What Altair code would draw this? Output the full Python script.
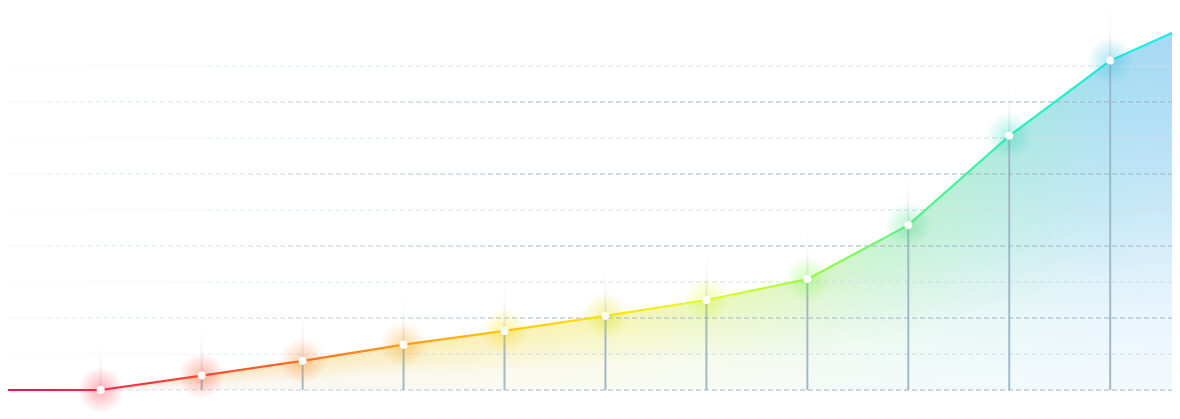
import altair as alt
import pandas as pd
import numpy as np

# ---------------- data ----------------
idx = list(range(11))
values = [0, 4.0, 8.1, 12.6, 16.4, 20.6, 25.0, 30.8, 45.8, 70.6, 91.5]
lead_idx, lead_val = -1, 0.0        # line enters from the left edge
tail_idx, tail_val = 11, 104.0      # line leaves past the right edge
grid_levels = [0, 10, 20, 30, 40, 50, 60, 70, 80, 90]

# ---------------- layout / style ----------------
W, H = 1164, 411
X0, DX = 92.7, 100.95               # plot px of index 0, px per index
x_dom = [(0 - X0) / DX, (W - X0) / DX]
Y0, DY = 382.0, 3.6                 # plot px of value 0, px per unit
y_dom = [(Y0 - H) / DY, Y0 / DY]
xs = alt.Scale(domain=x_dom, nice=False, zero=False)
ys = alt.Scale(domain=y_dom, nice=False, zero=False)

pts = pd.DataFrame({"i": idx, "v": values})
line_df = pd.DataFrame({"i": [lead_idx] + idx + [tail_idx],
                        "v": [lead_val] + values + [tail_val]})

# grid segments (fading to the left)
seg_px = 40.0
rows = []
for lv in grid_levels:
    col = "#9fb6c9" if (lv // 10) % 2 == 0 else "#d3dee6"
    p = 0.0
    while p < W:
        q = min(p + seg_px, W)
        c = (p + q) / 2
        op = float(min(1.0, 0.15 + (c / 600.0) ** 1.2))
        rows.append({"x0": (p - X0) / DX, "x1": (q - X0) / DX, "lv": lv,
                     "col": col, "op": op})
        p = q
grid_df = pd.DataFrame(rows)


def stops_x(pairs):
    # pairs given in page px; converted to offsets in the line's bounding box
    out = []
    for x, c in pairs:
        o = ((x - 8) - (X0 - DX)) / (DX * 12)
        out.append(alt.GradientStop(offset=max(0.0, min(1.0, o)), color=c))
    return out


line_grad = alt.LinearGradient(gradient="linear", x1=0, y1=0, x2=1, y2=0, stops=stops_x([
    (0, "#e3164b"), (100, "#ff2446"), (200, "#ff4a32"), (300, "#ff6e22"),
    (400, "#ff9c14"), (500, "#ffc40a"), (600, "#ffe40a"), (700, "#e4fb22"),
    (800, "#a6fb3e"), (900, "#5ef57e"), (1000, "#2ef4b2"), (1100, "#14efdc"),
    (1212, "#18eef4")]))

area_grad = alt.LinearGradient(gradient="linear", x1=0, y1=0, x2=1, y2=0, stops=stops_x([
    (0, "#ffa890"), (150, "#ffbc78"), (300, "#ffc860"), (450, "#fcdc50"),
    (600, "#f2ec58"), (750, "#d0f080"), (880, "#a6ecb4"), (1000, "#9ee4d6"),
    (1100, "#a2dcf0"), (1212, "#aad8f6")]))

fade_grad = alt.LinearGradient(gradient="linear", x1=0, y1=0, x2=0, y2=1, stops=[
    alt.GradientStop(offset=0.0, color="rgba(250,252,255,0)"),
    alt.GradientStop(offset=0.15, color="rgba(250,252,255,0.06)"),
    alt.GradientStop(offset=0.5, color="rgba(250,252,255,0.45)"),
    alt.GradientStop(offset=0.8, color="rgba(250,252,255,0.8)"),
    alt.GradientStop(offset=1.0, color="rgba(250,252,255,0.93)")])

flare_grad = alt.LinearGradient(gradient="linear", x1=0, y1=1, x2=0, y2=0, stops=[
    alt.GradientStop(offset=0.0, color="rgba(205,214,224,0.5)"),
    alt.GradientStop(offset=1.0, color="rgba(235,240,245,0)")])

glow_colors = ["#ff3050", "#ff5a3a", "#ff8a30", "#ffb020", "#ffd820", "#f0f020",
               "#d8ff30", "#90ff50", "#50f090", "#30f0c8", "#30d0f0"]
gcol = alt.Color("i:Q", scale=alt.Scale(domain=idx, range=glow_colors), legend=None)

X = alt.X("i:Q", scale=xs, axis=None)
Y = alt.Y("v:Q", scale=ys, axis=None)

base_line = alt.Chart(line_df)
area = base_line.mark_area(fill=area_grad, clip=True).encode(
    x=X, y=Y, y2=alt.datum(0))
area_fade = base_line.mark_area(fill=fade_grad, clip=True).encode(
    x=X, y=Y, y2=alt.datum(0))
# soft band of colour just below the line
bands = [base_line.transform_calculate(lo=f"datum.v * {f}").mark_area(
            fill=area_grad, opacity=0.045, clip=True).encode(x=X, y=Y, y2="lo:Q")
         for f in (0.92, 0.84, 0.76, 0.68, 0.6, 0.52, 0.44, 0.36)]

grid = alt.Chart(grid_df).mark_rule(strokeWidth=1, strokeDash=[5, 3], clip=True).encode(
    x=alt.X("x0:Q", scale=xs, axis=None), x2="x1:Q",
    y=alt.Y("lv:Q", scale=ys, axis=None),
    stroke=alt.Color("col:N", scale=None),
    opacity=alt.Opacity("op:Q", scale=None))

vrules = alt.Chart(pts).transform_filter("datum.v > 0").mark_rule(
    stroke="#98b3c1", strokeWidth=2, opacity=0.9).encode(x=X, y=Y, y2=alt.datum(0))

flares = alt.Chart(pts).transform_calculate(
    xa="datum.i - 0.011", xb="datum.i + 0.011", top="datum.v + 15"
).mark_rect(fill=flare_grad).encode(
    x=alt.X("xa:Q", scale=xs, axis=None), x2="xb:Q",
    y=alt.Y("v:Q", scale=ys, axis=None), y2="top:Q")

line = base_line.mark_line(stroke=line_grad, strokeWidth=2.2, clip=True).encode(x=X, y=Y)

glows = [alt.Chart(pts).mark_circle(size=s, opacity=0.035).encode(x=X, y=Y, color=gcol)
         for s in (2000, 1650, 1350, 1080, 850, 650, 480, 340, 230, 150)]
dots = alt.Chart(pts).mark_circle(size=64, opacity=1, color="#ffffff").encode(x=X, y=Y)

chart = alt.layer(area, area_fade, *bands, grid, vrules, flares, line, *glows, dots).properties(
    width=W, height=H, padding=0, autosize=alt.AutoSizeParams(type="none"),
    background="#ffffff"
).configure_view(stroke=None)

chart.save("out.html", embed_options={"renderer": "svg", "actions": False})
